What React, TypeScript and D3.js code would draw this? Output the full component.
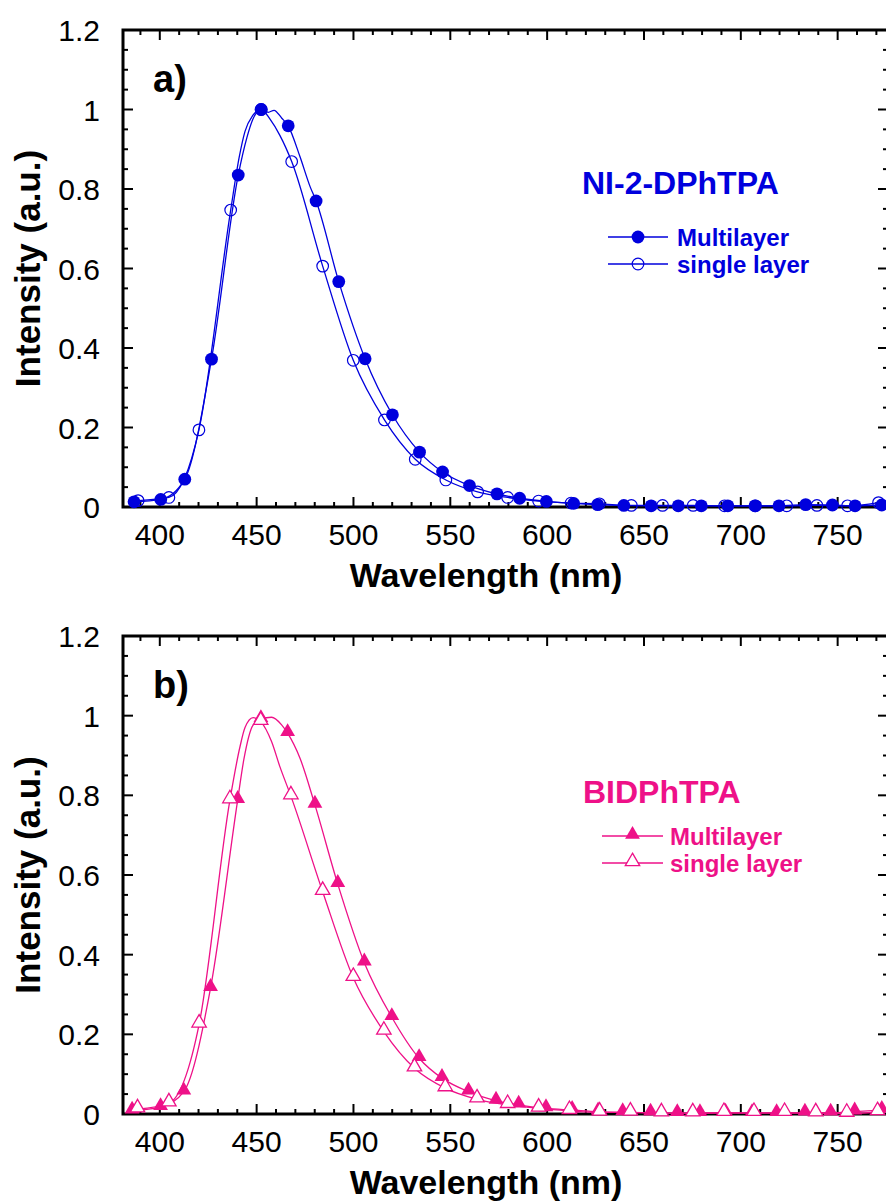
import React from 'react';
import * as d3 from 'd3';

// ---------- shared axis data ----------
const xMajorTicks = [400, 450, 500, 550, 600, 650, 700, 750];
const xMinorTicks = [390, 410, 420, 430, 440, 460, 470, 480, 490, 510, 520, 530, 540, 560, 570, 580, 590, 610, 620, 630, 640, 660, 670, 680, 690, 710, 720, 730, 740, 760, 770];
const yMajorTicks = [0, 0.2, 0.4, 0.6, 0.8, 1, 1.2];
const yTickLabels = ['0', '0.2', '0.4', '0.6', '0.8', '1', '1.2'];
const yMinorTicks = [0.05, 0.1, 0.15, 0.25, 0.3, 0.35, 0.45, 0.5, 0.55, 0.65, 0.7, 0.75, 0.85, 0.9, 0.95, 1.05, 1.1, 1.15];
const xDomain = [381, 776];
const yDomain = [0, 1.2];

// ---------- panel a: NI-2-DPhTPA ----------
const aMultiWl = [386.7, 400.5, 412.9, 426.7, 440.5, 452.4, 466.3, 480.7, 492.4, 506, 520.1, 534.1, 546, 559.9, 574.1, 585.8, 599.6, 613.7, 626.1, 639.6, 653.7, 667.7, 679.6, 693.3, 707.3, 719.7, 733.5, 747.3, 759, 772.8];
const aMultiI = [0.013, 0.019, 0.07, 0.372, 0.835, 1.0, 0.959, 0.77, 0.567, 0.373, 0.232, 0.138, 0.088, 0.054, 0.033, 0.022, 0.014, 0.009, 0.006, 0.004, 0.003, 0.003, 0.003, 0.003, 0.003, 0.003, 0.006, 0.005, 0.003, 0.005];
const aMultiPeakWl = [445, 448, 456, 459, 463, 472.4, 477.6];
const aMultiPeakI = [0.93, 0.975, 0.993, 0.998, 0.978, 0.881, 0.806];

const aSingleWl = [388.8, 404.7, 420.2, 436.6, 452.3, 468.1, 484.1, 499.9, 516, 531.9, 547.7, 564.1, 579.6, 595.6, 612.4, 627, 643.5, 659.6, 675.4, 691.6, 707.6, 723.7, 739.3, 755.1, 771.1];
const aSingleI = [0.016, 0.024, 0.194, 0.747, 1.0, 0.869, 0.606, 0.369, 0.219, 0.12, 0.068, 0.038, 0.024, 0.015, 0.01, 0.008, 0.004, 0.004, 0.004, 0.003, 0.003, 0.003, 0.004, 0.003, 0.011];
const aSinglePeakWl = [441, 444, 448, 457, 462];
const aSinglePeakI = [0.88, 0.945, 0.985, 0.975, 0.935];

// ---------- panel b: BIDPhTPA ----------
const bMultiWl = [385.7, 400.4, 412.4, 426.2, 440.2, 452.2, 466, 480.1, 491.9, 505.6, 519.8, 533.9, 545.7, 559.4, 573.6, 585.3, 599.4, 612.9, 626.3, 639, 653.4, 667.2, 678.9, 692.1, 705.8, 718.5, 733.1, 746.4, 758.8, 772.8];
const bMultiI = [0.008, 0.017, 0.056, 0.316, 0.788, 0.991, 0.956, 0.776, 0.577, 0.38, 0.243, 0.14, 0.09, 0.056, 0.033, 0.023, 0.014, 0.01, 0.006, 0.004, 0.003, 0.002, 0.002, 0.003, 0.002, 0.002, 0.003, 0.003, 0.006, 0.01];
const bMultiPeakWl = [443.4, 448, 457.7, 462.9, 472.4];
const bMultiPeakI = [0.89, 0.975, 0.996, 0.977, 0.893];

const bSingleWl = [388.5, 404.7, 420.3, 436.2, 452.1, 467.7, 484.1, 499.9, 515.7, 531.5, 547.4, 563.8, 579.6, 595.6, 611.5, 627.1, 643, 659, 675.2, 691.3, 706.8, 722.6, 738.7, 754.7, 770.6];
const bSingleI = [0.012, 0.027, 0.225, 0.788, 0.985, 0.798, 0.558, 0.342, 0.207, 0.115, 0.065, 0.037, 0.023, 0.014, 0.008, 0.004, 0.004, 0.002, 0.002, 0.003, 0.003, 0.003, 0.002, 0.001, 0.005];
const bSinglePeakWl = [441.4, 444, 448.2, 457.7, 462];
const bSinglePeakI = [0.922, 0.97, 0.995, 0.935, 0.872];

const legendLabels = ['Multilayer', 'single layer'];

const FONT = '"Liberation Sans", Arial, Helvetica, sans-serif';
const BLUE = '#0000dd';
const PINK = '#ee1188';

type Pt = [number, number];
const zip = (a: number[], b: number[]): Pt[] => a.map((v, i) => [v, b[i]] as Pt);
const lineData = (wl: number[], I: number[], pwl: number[], pI: number[]): Pt[] =>
  [...zip(wl, I), ...zip(pwl, pI)].sort((p, q) => p[0] - q[0]);

interface PanelProps {
  top: number;
  bottom: number;
  left: number;
  right: number;
  letter: string;
  compound: string;
  compoundX: number;
  compoundY: number;
  color: string;
  marker: 'circle' | 'triangle';
  multi: Pt[];
  multiLine: Pt[];
  single: Pt[];
  singleLine: Pt[];
  legX1: number;
  legX2: number;
  legY: number;
  legTextX: number;
  openOnTop: boolean;
}

function Marker({ x, y, filled, kind, color }: { x: number; y: number; filled: boolean; kind: string; color: string }) {
  if (kind === 'circle') {
    return filled ? (
      <circle cx={x} cy={y} r={6.4} fill={color} />
    ) : (
      <circle cx={x} cy={y} r={5.8} fill="none" stroke={color} strokeWidth={1.2} />
    );
  }
  const path = d3.symbol().type(d3.symbolTriangle).size(filled ? 95 : 90)() as string;
  return filled ? (
    <path d={path} transform={`translate(${x},${y - 1.5})`} fill={color} />
  ) : (
    <path d={path} transform={`translate(${x},${y - 1.5})`} fill="#fff" stroke={color} strokeWidth={1.3} />
  );
}

function Panel(p: PanelProps) {
  const x = d3.scaleLinear().domain(xDomain).range([p.left, p.right]);
  const y = d3.scaleLinear().domain(yDomain).range([p.bottom, p.top]);
  const line = d3
    .line<Pt>()
    .x((d) => x(d[0]))
    .y((d) => y(d[1]))
    .curve(d3.curveMonotoneX);
  const tickW = 2;
  const maj = 10;
  const min = 5;
  const midY = (p.top + p.bottom) / 2;

  const multiMarks = p.multi.map((d, i) => (
    <Marker key={'m' + i} x={x(d[0])} y={y(d[1])} filled kind={p.marker} color={p.color} />
  ));
  const singleMarks = p.single.map((d, i) => (
    <Marker key={'s' + i} x={x(d[0])} y={y(d[1])} filled={false} kind={p.marker} color={p.color} />
  ));

  return (
    <g>
      {/* ticks */}
      {xMajorTicks.map((t) => (
        <g key={'xM' + t}>
          <line x1={x(t)} x2={x(t)} y1={p.bottom} y2={p.bottom - maj} stroke="#000" strokeWidth={tickW} />
          <line x1={x(t)} x2={x(t)} y1={p.top} y2={p.top + maj} stroke="#000" strokeWidth={tickW} />
          <text x={x(t)} y={p.bottom + 38} textAnchor="middle" fontSize={30} fontFamily={FONT} fill="#000">
            {t}
          </text>
        </g>
      ))}
      {xMinorTicks.map((t) => (
        <g key={'xm' + t}>
          <line x1={x(t)} x2={x(t)} y1={p.bottom} y2={p.bottom - min} stroke="#000" strokeWidth={tickW} />
          <line x1={x(t)} x2={x(t)} y1={p.top} y2={p.top + min} stroke="#000" strokeWidth={tickW} />
        </g>
      ))}
      {yMajorTicks.map((t, i) => (
        <g key={'yM' + t}>
          <line x1={p.left} x2={p.left + maj} y1={y(t)} y2={y(t)} stroke="#000" strokeWidth={tickW} />
          <line x1={p.right} x2={p.right - maj} y1={y(t)} y2={y(t)} stroke="#000" strokeWidth={tickW} />
          <text x={100} y={y(t) + 11} textAnchor="end" fontSize={30} fontFamily={FONT} fill="#000">
            {yTickLabels[i]}
          </text>
        </g>
      ))}
      {yMinorTicks.map((t) => (
        <g key={'ym' + t}>
          <line x1={p.left} x2={p.left + min} y1={y(t)} y2={y(t)} stroke="#000" strokeWidth={tickW} />
          <line x1={p.right} x2={p.right - min} y1={y(t)} y2={y(t)} stroke="#000" strokeWidth={tickW} />
        </g>
      ))}
      {/* frame */}
      <rect x={p.left} y={p.top} width={p.right - p.left} height={p.bottom - p.top} fill="none" stroke="#000" strokeWidth={3} />

      {/* lines */}
      <path d={line(p.singleLine) as string} fill="none" stroke={p.color} strokeWidth={1.3} />
      <path d={line(p.multiLine) as string} fill="none" stroke={p.color} strokeWidth={1.3} />
      {p.openOnTop ? (
        <g>
          {multiMarks}
          {singleMarks}
        </g>
      ) : (
        <g>
          {singleMarks}
          {multiMarks}
        </g>
      )}

      {/* labels */}
      <text x={p.left + 30} y={p.top + 62} fontSize={38} fontWeight="bold" fontFamily={FONT} fill="#000">
        {p.letter}
      </text>
      <text x={p.compoundX} y={p.compoundY} fontSize={32} fontWeight="bold" fontFamily={FONT} fill={p.color}>
        {p.compound}
      </text>

      {/* legend */}
      {legendLabels.map((lab, i) => {
        const ly = p.legY + i * 27;
        const mx = (p.legX1 + p.legX2) / 2;
        return (
          <g key={lab}>
            <line x1={p.legX1} x2={p.legX2} y1={ly} y2={ly} stroke={p.color} strokeWidth={1.3} />
            <Marker x={mx} y={ly} filled={i === 0} kind={p.marker} color={p.color} />
            <text x={p.legTextX} y={ly + 9} fontSize={24} fontWeight="bold" fontFamily={FONT} fill={p.color}>
              {lab}
            </text>
          </g>
        );
      })}

      {/* axis titles */}
      <text x={486} y={p.bottom + 80} textAnchor="middle" fontSize={34} fontWeight="bold" fontFamily={FONT} fill="#000">
        Wavelength (nm)
      </text>
      <text
        transform={`translate(40,${midY}) rotate(-90)`}
        textAnchor="middle"
        fontSize={35}
        fontWeight="bold"
        fontFamily={FONT}
        fill="#000"
      >
        Intensity (a.u.)
      </text>
    </g>
  );
}

export default function App() {
  return (
    <svg
      width={886}
      height={1203}
      viewBox="0 0 886 1203"
      style={{ position: 'absolute', left: 0, top: 0, background: '#fff' }}
    >
      <rect x={0} y={0} width={886} height={1203} fill="#fff" />
      <Panel
        top={30}
        bottom={507}
        left={123}
        right={888}
        letter="a)"
        compound="NI-2-DPhTPA"
        compoundX={582}
        compoundY={194}
        color={BLUE}
        marker="circle"
        multi={zip(aMultiWl, aMultiI)}
        multiLine={lineData(aMultiWl, aMultiI, aMultiPeakWl, aMultiPeakI)}
        single={zip(aSingleWl, aSingleI)}
        singleLine={lineData(aSingleWl, aSingleI, aSinglePeakWl, aSinglePeakI)}
        legX1={608}
        legX2={668}
        legY={237}
        legTextX={677}
        openOnTop={false}
      />
      <Panel
        top={636}
        bottom={1114}
        left={123}
        right={888}
        letter="b)"
        compound="BIDPhTPA"
        compoundX={583}
        compoundY={803}
        color={PINK}
        marker="triangle"
        multi={zip(bMultiWl, bMultiI)}
        multiLine={lineData(bMultiWl, bMultiI, bMultiPeakWl, bMultiPeakI)}
        single={zip(bSingleWl, bSingleI)}
        singleLine={lineData(bSingleWl, bSingleI, bSinglePeakWl, bSinglePeakI)}
        legX1={602}
        legX2={663}
        legY={836}
        legTextX={670}
        openOnTop={true}
      />
    </svg>
  );
}
